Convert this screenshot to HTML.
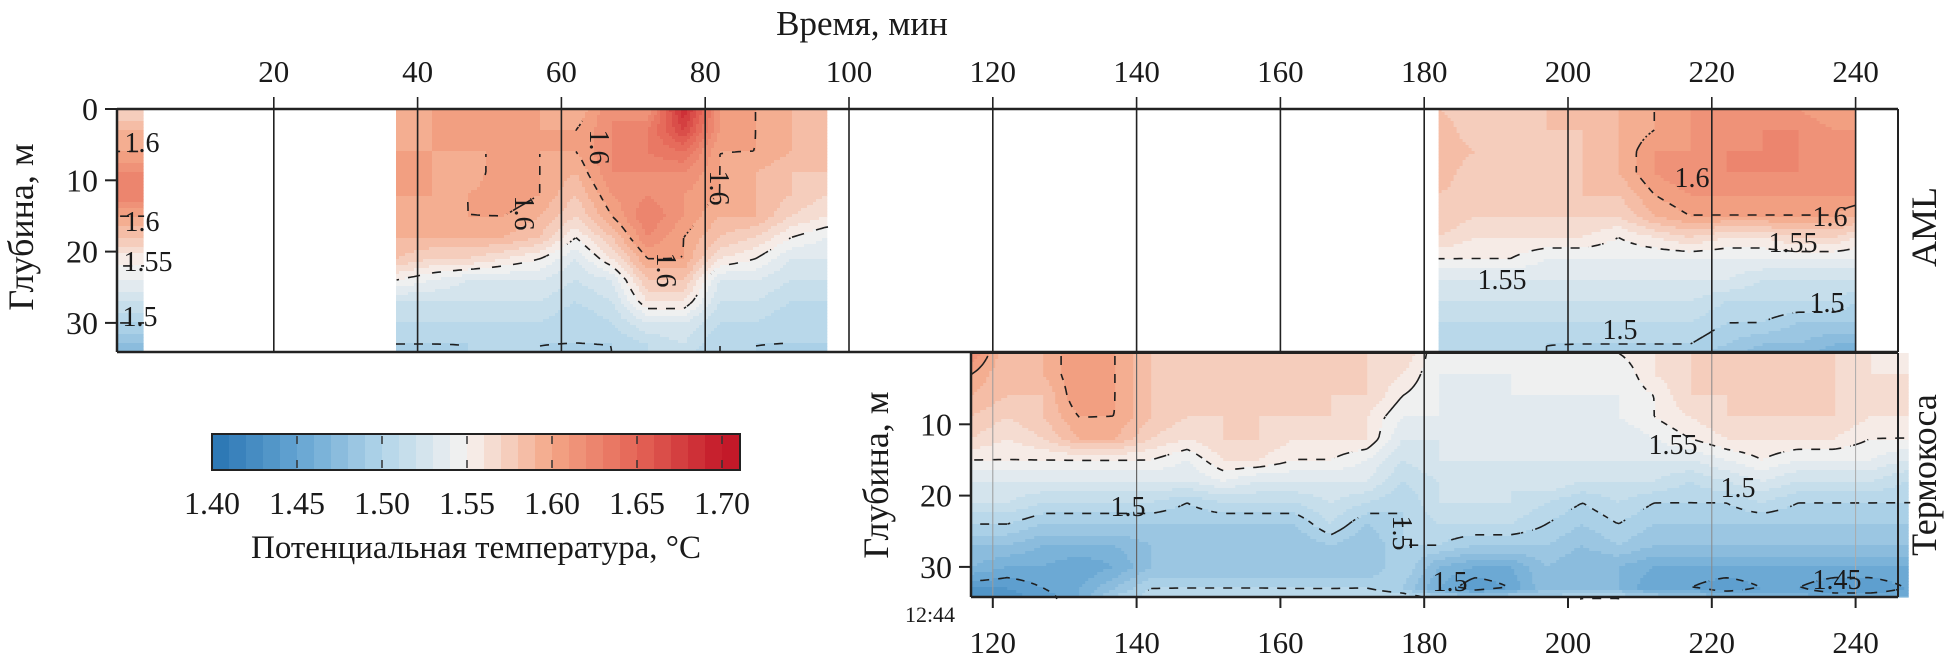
<!DOCTYPE html>
<html><head><meta charset="utf-8">
<style>
html,body{margin:0;padding:0;background:#fff;}
svg{display:block;font-family:"Liberation Serif","DejaVu Serif",serif;}
svg text{font-family:"Liberation Serif","DejaVu Serif",serif;}
</style></head>
<body>
<svg id="chart" width="1952" height="667" viewBox="0 0 1952 667" xmlns="http://www.w3.org/2000/svg" font-family="'Liberation Serif', 'DejaVu Serif', serif">
<rect x="0" y="0" width="1952" height="667" fill="#fff"/>
<g id="fields"></g>
<g id="contours"></g>
<g id="grid"></g>
<g id="axes"></g>
<g id="cbar"></g>
<g id="labels" fill="#1a1a1a" font-family="'Liberation Serif', 'DejaVu Serif', serif"></g>
</svg>
<script>
// ---------------- data ----------------
const depthNodes = [0,3,6,9,12,15,18,21,24,27,30,33,35];

const amlTimesA = [-1.8, 1.8];
const amlTempsA = [
 [1.57,1.59,1.60,1.62,1.63,1.60,1.58,1.555,1.54,1.52,1.50,1.48,1.47],
 [1.57,1.59,1.60,1.62,1.63,1.60,1.58,1.555,1.54,1.52,1.50,1.48,1.47]
];

const amlTimesB = [37,42,47,52,57,62,67,72,77,82,87,92,97];
const amlTempsB = [
 [1.59,1.59,1.60,1.60,1.60,1.60,1.59,1.58,1.55,1.52,1.51,1.50,1.49],
 [1.60,1.60,1.60,1.60,1.60,1.59,1.59,1.57,1.54,1.52,1.51,1.50,1.49],
 [1.60,1.60,1.60,1.59,1.60,1.60,1.59,1.57,1.53,1.52,1.51,1.50,1.50],
 [1.60,1.60,1.60,1.61,1.61,1.60,1.59,1.56,1.53,1.52,1.51,1.50,1.50],
 [1.60,1.60,1.60,1.60,1.60,1.59,1.58,1.55,1.53,1.52,1.51,1.50,1.50],
 [1.59,1.60,1.60,1.59,1.58,1.57,1.55,1.53,1.52,1.51,1.50,1.50,1.49],
 [1.62,1.62,1.62,1.62,1.61,1.60,1.58,1.56,1.53,1.52,1.51,1.50,1.50],
 [1.61,1.63,1.63,1.62,1.62,1.63,1.62,1.60,1.58,1.56,1.53,1.51,1.51],
 [1.69,1.67,1.64,1.62,1.61,1.61,1.60,1.60,1.58,1.56,1.53,1.52,1.51],
 [1.61,1.61,1.60,1.60,1.60,1.59,1.58,1.56,1.53,1.52,1.51,1.50,1.50],
 [1.60,1.60,1.60,1.59,1.59,1.59,1.57,1.55,1.53,1.52,1.51,1.50,1.50],
 [1.59,1.59,1.59,1.58,1.58,1.57,1.55,1.53,1.52,1.51,1.50,1.50,1.49],
 [1.58,1.58,1.58,1.58,1.57,1.56,1.54,1.53,1.52,1.51,1.50,1.50,1.49]
];

const amlTimesC = [182,187,192,197,202,207,212,217,222,227,232,237,240];
const amlTempsC = [
 [1.58,1.59,1.59,1.59,1.58,1.58,1.57,1.55,1.53,1.52,1.51,1.50,1.50],
 [1.57,1.57,1.58,1.57,1.57,1.57,1.56,1.55,1.53,1.52,1.51,1.50,1.50],
 [1.57,1.57,1.57,1.57,1.57,1.57,1.56,1.55,1.53,1.52,1.51,1.51,1.50],
 [1.58,1.58,1.57,1.58,1.57,1.57,1.56,1.54,1.53,1.52,1.51,1.50,1.50],
 [1.59,1.58,1.58,1.58,1.58,1.57,1.56,1.54,1.53,1.52,1.51,1.50,1.49],
 [1.59,1.59,1.59,1.59,1.58,1.57,1.55,1.54,1.53,1.52,1.51,1.50,1.49],
 [1.60,1.60,1.61,1.61,1.60,1.59,1.56,1.54,1.53,1.52,1.51,1.50,1.49],
 [1.61,1.61,1.61,1.62,1.61,1.60,1.57,1.54,1.53,1.52,1.51,1.50,1.49],
 [1.61,1.61,1.62,1.62,1.61,1.60,1.56,1.54,1.53,1.51,1.50,1.49,1.48],
 [1.61,1.62,1.62,1.62,1.61,1.60,1.56,1.54,1.52,1.51,1.50,1.48,1.47],
 [1.61,1.62,1.62,1.62,1.61,1.60,1.57,1.54,1.52,1.51,1.49,1.48,1.47],
 [1.60,1.61,1.61,1.61,1.61,1.60,1.57,1.54,1.52,1.51,1.49,1.47,1.46],
 [1.60,1.61,1.61,1.61,1.61,1.59,1.56,1.54,1.52,1.50,1.49,1.47,1.46]
];

const chainTimes = [117,122,127,132,137,142,147,152,157,162,167,172,177,182,187,192,197,202,207,212,217,222,227,232,237,242,247];
const chainTemps = [
 [1.62,1.60,1.59,1.58,1.57,1.55,1.53,1.52,1.50,1.48,1.47,1.44,1.43],
 [1.58,1.58,1.58,1.57,1.56,1.55,1.53,1.52,1.50,1.48,1.46,1.44,1.43],
 [1.59,1.59,1.58,1.58,1.57,1.55,1.53,1.51,1.49,1.47,1.46,1.45,1.44],
 [1.61,1.61,1.61,1.60,1.59,1.55,1.53,1.51,1.49,1.47,1.45,1.46,1.46],
 [1.60,1.60,1.60,1.60,1.59,1.55,1.53,1.51,1.49,1.47,1.46,1.48,1.50],
 [1.58,1.58,1.58,1.58,1.57,1.55,1.53,1.51,1.49,1.48,1.48,1.50,1.51],
 [1.57,1.57,1.57,1.57,1.56,1.54,1.53,1.50,1.49,1.48,1.48,1.50,1.52],
 [1.57,1.57,1.57,1.57,1.57,1.56,1.54,1.51,1.49,1.48,1.48,1.50,1.52],
 [1.57,1.57,1.57,1.57,1.57,1.56,1.53,1.51,1.49,1.48,1.48,1.50,1.52],
 [1.57,1.57,1.57,1.57,1.56,1.55,1.53,1.51,1.49,1.48,1.48,1.50,1.51],
 [1.57,1.57,1.57,1.57,1.56,1.55,1.53,1.52,1.51,1.49,1.48,1.50,1.51],
 [1.57,1.57,1.57,1.56,1.56,1.54,1.53,1.51,1.49,1.48,1.48,1.50,1.52],
 [1.57,1.56,1.55,1.54,1.53,1.52,1.51,1.50,1.50,1.50,1.50,1.49,1.52],
 [1.54,1.54,1.54,1.54,1.53,1.53,1.52,1.52,1.51,1.50,1.47,1.46,1.52],
 [1.54,1.54,1.53,1.53,1.53,1.53,1.52,1.52,1.51,1.49,1.46,1.44,1.52],
 [1.54,1.54,1.54,1.53,1.53,1.53,1.52,1.52,1.51,1.49,1.46,1.45,1.52],
 [1.54,1.54,1.54,1.54,1.54,1.53,1.53,1.51,1.50,1.49,1.48,1.48,1.50],
 [1.54,1.54,1.54,1.53,1.53,1.53,1.52,1.50,1.49,1.48,1.47,1.47,1.52],
 [1.55,1.54,1.54,1.54,1.53,1.53,1.52,1.51,1.50,1.49,1.47,1.47,1.52],
 [1.56,1.56,1.55,1.55,1.54,1.53,1.52,1.50,1.49,1.48,1.46,1.45,1.52],
 [1.57,1.57,1.57,1.56,1.55,1.53,1.51,1.50,1.49,1.48,1.46,1.45,1.51],
 [1.57,1.57,1.57,1.57,1.56,1.54,1.52,1.50,1.49,1.48,1.46,1.44,1.49],
 [1.57,1.57,1.57,1.57,1.56,1.55,1.53,1.51,1.49,1.48,1.46,1.45,1.49],
 [1.57,1.57,1.57,1.57,1.56,1.54,1.52,1.50,1.49,1.48,1.46,1.45,1.48],
 [1.57,1.57,1.57,1.57,1.56,1.54,1.52,1.50,1.49,1.48,1.46,1.44,1.47],
 [1.56,1.56,1.56,1.56,1.55,1.54,1.52,1.50,1.49,1.48,1.46,1.44,1.47],
 [1.55,1.56,1.56,1.56,1.55,1.53,1.51,1.50,1.49,1.48,1.46,1.45,1.47]
];

const contourLevels = [1.45, 1.50, 1.55, 1.60];
const topTimeTicks = [20,40,60,80,100,120,140,160,180,200,220,240];
const bottomTimeTicks = [120,140,160,180,200,220,240];
const topDepthTicks = [0,10,20,30];
const bottomDepthTicks = [10,20,30];
const colorTicks = [1.40,1.45,1.50,1.55,1.60,1.65,1.70];

// ---------------- scales ----------------
const NS = "http://www.w3.org/2000/svg";
const FONT = "'Liberation Serif', 'DejaVu Serif', serif";
const xT = t => 130 + t*7.19;
const tX = px => (px-130)/7.19;
const TOP_Y0 = 109, TOP_Y1 = 352, BOT_Y0 = 353, BOT_Y1 = 597;
const DPX = 7.13;
const cbX = v => 212 + (v-1.40)*1700;

const stops = [[1.40,[40,116,178]],[1.45,[100,164,210]],[1.50,[178,213,233]],[1.55,[246,243,241]],[1.60,[244,166,134]],[1.65,[228,100,86]],[1.70,[196,26,42]],[1.72,[190,20,38]]];
function cmapRaw(v){
  if(v<=stops[0][0]) return stops[0][1];
  for(let i=0;i<stops.length-1;i++){
    const a=stops[i],b=stops[i+1];
    if(v<=b[0]){const f=(v-a[0])/(b[0]-a[0]);return a[1].map((c,k)=>Math.round(c+(b[1][k]-c)*f));}
  }
  return stops[stops.length-1][1];
}
function cmap(v){
  let bin=Math.floor((v-1.40)/0.01+1e-9);
  bin=Math.max(0,Math.min(30,bin));
  const c=cmapRaw(1.40+(bin+0.5)*0.01);
  return `rgb(${c[0]},${c[1]},${c[2]})`;
}

function sample(times,temps,t,d){
  let i=0; while(i<times.length-2 && t>times[i+1]) i++;
  let ft=times.length>1?(t-times[i])/(times[i+1]-times[i]):0; ft=Math.max(0,Math.min(1,ft));
  let j=0; while(j<depthNodes.length-2 && d>depthNodes[j+1]) j++;
  let fd=(d-depthNodes[j])/(depthNodes[j+1]-depthNodes[j]); fd=Math.max(0,Math.min(1,fd));
  const a=temps[i][j],b=temps[i+1][j],c=temps[i][j+1],e=temps[i+1][j+1];
  return (a*(1-ft)+b*ft)*(1-fd)+(c*(1-ft)+e*ft)*fd;
}

const fieldsG=document.getElementById('fields');
const contG=document.getElementById('contours');

function drawField(name,times,temps,t0,t1,y0,y1){
  const x0=Math.max(xT(t0), xT(times[0])), x1=xT(t1);
  const step=3;
  const nx=Math.ceil((x1-x0)/step), ny=Math.ceil((y1-y0)/step);
  const g=document.createElementNS(NS,'g');
  
  
  fieldsG.appendChild(g);
  for(let j=0;j<ny;j++){
    const py=y0+j*step, h=Math.min(step,y1-py);
    const d=(py+h/2-y0)/DPX;
    let runStart=0, runCol=null;
    for(let i=0;i<=nx;i++){
      let col=null;
      if(i<nx){const px=x0+i*step;const w=Math.min(step,x1-px);col=cmap(sample(times,temps,tX(px+w/2),d));}
      if(col!==runCol){
        if(runCol!==null){
          const r=document.createElementNS(NS,'rect');
          
          
          const rx=x0+runStart*step, rx2=Math.min(x1,x0+i*step);
          r.setAttribute('x',rx.toFixed(1));r.setAttribute('y',py.toFixed(1));
          r.setAttribute('width',(rx2-rx+0.6).toFixed(1));r.setAttribute('height',(h+0.6).toFixed(1));
          r.setAttribute('fill',runCol);
          g.appendChild(r);
        }
        runStart=i;runCol=col;
      }
    }
  }
  const G=[];
  for(let j=0;j<=ny;j++){G.push([]);const py=Math.min(y1,y0+j*step);
    for(let i=0;i<=nx;i++){const px=Math.min(x1,x0+i*step);G[j].push(sample(times,temps,tX(px),(py-y0)/DPX));}}
  let dstr='';
  for(const L of contourLevels){
    for(let j=0;j<ny;j++)for(let i=0;i<nx;i++){
      if(Math.floor((i+j)/3)%2!==0) continue;
      const px=x0+i*step, py=y0+j*step;
      const c=[[px,py,G[j][i]],[px+step,py,G[j][i+1]],[px+step,py+step,G[j+1][i+1]],[px,py+step,G[j+1][i]]];
      const pts=[];
      for(let k=0;k<4;k++){const a=c[k],b=c[(k+1)%4];
        if((a[2]-L)*(b[2]-L)<0){const f=(L-a[2])/(b[2]-a[2]);pts.push([a[0]+(b[0]-a[0])*f,a[1]+(b[1]-a[1])*f]);}}
      for(let k=0;k+1<pts.length;k+=2){
        dstr+=`M${pts[k][0].toFixed(1)},${pts[k][1].toFixed(1)}L${pts[k+1][0].toFixed(1)},${pts[k+1][1].toFixed(1)}`;
      }
    }
  }
  const p=document.createElementNS(NS,'path');
  
  
  p.setAttribute('d',dstr);p.setAttribute('stroke','#1e1e1e');p.setAttribute('stroke-width','1.6');p.setAttribute('fill','none');
  contG.appendChild(p);
}

drawField('aml-field-a',amlTimesA,amlTempsA,-1.8,1.8,TOP_Y0,TOP_Y1);
drawField('aml-field-b',amlTimesB,amlTempsB,36.9,96.9,TOP_Y0,TOP_Y1);
drawField('aml-field-c',amlTimesC,amlTempsC,181.9,240,TOP_Y0,TOP_Y1);
drawField('thermistor-field',chainTimes,chainTemps,117,247.3,BOT_Y0,BOT_Y1);

// ---------------- axes & grid ----------------
const gridG=document.getElementById('grid'), axG=document.getElementById('axes'), lab=document.getElementById('labels');
function line(parent,name,x1,y1,x2,y2,stroke,w){
  const l=document.createElementNS(NS,'line');
  
  
  l.setAttribute('x1',x1);l.setAttribute('y1',y1);l.setAttribute('x2',x2);l.setAttribute('y2',y2);
  l.setAttribute('stroke',stroke);l.setAttribute('stroke-width',w);parent.appendChild(l);return l;
}
function text(name,x,y,s,size,anchor,rot){
  const t=document.createElementNS(NS,'text');
  
  
  t.setAttribute('x',x);t.setAttribute('y',y);t.setAttribute('font-size',size);
  t.setAttribute('font-family',FONT);
  t.setAttribute('text-anchor',anchor||'middle');
  if(rot) t.setAttribute('transform',`rotate(${rot} ${x} ${y})`);
  t.textContent=s;lab.appendChild(t);return t;
}
for(const t of topTimeTicks){
  line(gridG,'top-gridline',xT(t),97,xT(t),TOP_Y1,'#222',1.6);
  text('top-x-tick-label',xT(t),82,String(t),31);
}
const botGridStyle={120:['#9a9a9a',1],140:['#666',1.2],160:null,180:['#333',1.6],200:null,220:['#888',1],240:['#aaa',1]};
for(const t of bottomTimeTicks){
  const st=botGridStyle[t]; if(st) line(gridG,'bottom-gridline',xT(t),BOT_Y0,xT(t),BOT_Y1,st[0],st[1]);
  line(axG,'bottom-x-tick',xT(t),BOT_Y1,xT(t),BOT_Y1+11,'#222',2);
  text('bottom-x-tick-label',xT(t),653,String(t),31);
}
line(axG,'top-panel-top-axis',117,TOP_Y0,1898,TOP_Y0,'#222',2.5);
line(axG,'top-panel-left-axis',117,TOP_Y0,117,TOP_Y1,'#222',2.5);
line(axG,'top-panel-bottom-axis',117,TOP_Y1,1898,TOP_Y1,'#222',2.5);
line(axG,'top-panel-right-axis',1898,TOP_Y0,1898,TOP_Y1,'#222',2);
for(const d of topDepthTicks){
  const y=TOP_Y0+d*DPX; line(axG,'top-y-tick',105,y,117,y,'#222',2);
  text('top-y-tick-label',98,y+11,String(d),32,'end');
}
line(axG,'bottom-panel-top-axis',971,BOT_Y0,1898,BOT_Y0,'#222',2);
line(axG,'bottom-panel-left-axis',971,BOT_Y0,971,BOT_Y1,'#222',2.5);
line(axG,'bottom-panel-bottom-axis',971,BOT_Y1,1898,BOT_Y1,'#222',2.5);
line(axG,'bottom-panel-right-axis',1898,BOT_Y0,1898,BOT_Y1,'#222',2);
for(const d of bottomDepthTicks){
  const y=BOT_Y0+d*DPX; line(axG,'bottom-y-tick',959,y,971,y,'#222',2);
  text('bottom-y-tick-label',952,y+11,String(d),32,'end');
}

// ---------------- colorbar ----------------
const cbG=document.getElementById('cbar');
for(let b=0;b<31;b++){
  const v=1.40+b*0.01;
  const r=document.createElementNS(NS,'rect');
  
  
  r.setAttribute('x',cbX(v).toFixed(1));r.setAttribute('y',434);r.setAttribute('width',(17.6).toFixed(1));r.setAttribute('height',36);
  r.setAttribute('fill',cmap(v+0.005));cbG.appendChild(r);
}
for(const v of colorTicks){
  if(v>1.40){
    line(cbG,'colorbar-level-line',cbX(v),436,cbX(v),444,'#333',1.5);
    line(cbG,'colorbar-level-line',cbX(v),460,cbX(v),468,'#333',1.5);
  }
  text('colorbar-tick-label',cbX(v),514,v.toFixed(2),32);
}
const cbFrame=document.createElementNS(NS,'rect');


cbFrame.setAttribute('x',212);cbFrame.setAttribute('y',434);cbFrame.setAttribute('width',528);cbFrame.setAttribute('height',36);
cbFrame.setAttribute('fill','none');cbFrame.setAttribute('stroke','#222');cbFrame.setAttribute('stroke-width',2);
cbG.appendChild(cbFrame);
text('colorbar-title',476,558,'Потенциальная температура, °C',33);

// ---------------- titles ----------------
text('x-axis-title',862,35,'Время, мин',35);
text('top-y-axis-title',33,227,'Глубина, м',36,'middle',-90);
text('bottom-y-axis-title',888,475,'Глубина, м',36,'middle',-90);
text('aml-panel-label',1936,227,'AML',36,'middle',-90);
text('thermistor-panel-label',1936,475,'Термокоса',36,'middle',-90);
text('start-time-label',930,622,'12:44',22);

const cl=[[142,152,'1.6',0],[142,231,'1.6',0],[148,271,'1.55',0],[140,326,'1.5',0],
 [515,213,'1.6',90],[590,147,'1.6',90],[657,270,'1.6',90],[710,188,'1.6',90],
 [1692,187,'1.6',0],[1502,289,'1.55',0],[1620,339,'1.5',0],[1830,226,'1.6',0],[1793,252,'1.55',0],[1827,312,'1.5',0],
 [1128,516,'1.5',0],[1393,533,'1.5',90],[1450,591,'1.5',0],[1673,454,'1.55',0],[1738,497,'1.5',0],[1837,589,'1.45',0]];
for(const c of cl){ text('contour-label',c[0],c[1],c[2],28,'middle',c[3]||0); }
</script>
</body></html>
